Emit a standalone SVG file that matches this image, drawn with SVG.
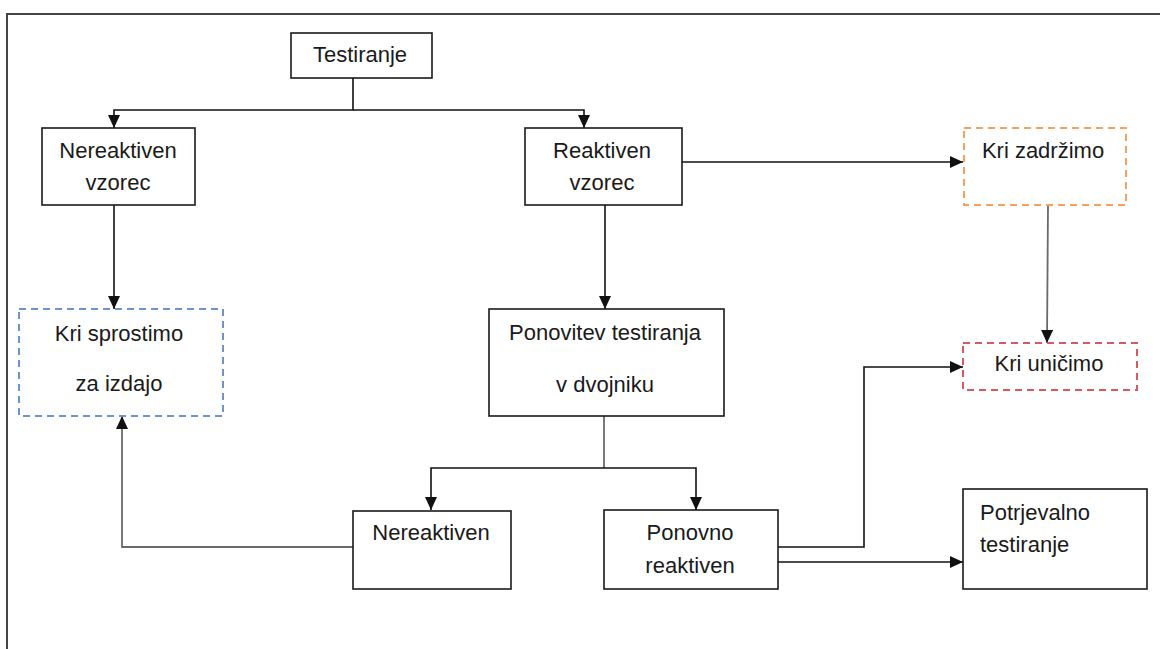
<svg xmlns="http://www.w3.org/2000/svg" width="1160" height="649" viewBox="0 0 1160 649">
  <style>
    .box { fill: #ffffff; stroke: #1a1a1a; stroke-width: 1.6; }
    .dash { fill: #ffffff; stroke-width: 2; stroke-dasharray: 7 5; }
    .blue { stroke: #6b95cf; }
    .orange { stroke: #f7a15e; }
    .red { stroke: #d45b60; }
    .t { font-family: "Liberation Sans", Arial, sans-serif; font-size: 22px; fill: #1a1a1a; }
    .c { text-anchor: middle; }
    .ln { fill: none; stroke: #111111; stroke-width: 1.6; }
    .gr { fill: none; stroke: #6a6a6a; stroke-width: 1.8; }
    .arr { marker-end: url(#ah); }
  </style>
  <defs>
    <marker id="ah" markerUnits="userSpaceOnUse" markerWidth="13" markerHeight="12" refX="13" refY="6" orient="auto">
      <path d="M0,0 L13,6 L0,12 z" fill="#111111"/>
    </marker>
  </defs>
  <rect width="1160" height="649" fill="#ffffff"/>
  <path d="M7,649 V14 H1160" fill="none" stroke="#444444" stroke-width="2"/>

  <g id="connectors">
    <path class="ln arr" d="M353,78 V110 H114 V128"/>
    <path class="ln arr" d="M353,110 H584 V128"/>
    <path class="ln arr" d="M114,205 V309"/>
    <path class="ln arr" d="M605,205 V309"/>
    <path class="ln arr" d="M682,162 H963"/>
    <path class="gr arr" d="M1048,205 L1047,343"/>
    <path class="gr" d="M604,416 V468"/>
    <path class="ln arr" d="M604,468 H431 V510"/>
    <path class="ln arr" d="M604,468 H696 V510"/>
    <path class="gr arr" d="M353,547 H122 V416"/>
    <path class="ln arr" d="M778,547 H864 V367 H963"/>
    <path class="ln arr" d="M778,562 H963"/>
  </g>

  <g id="testiranje">
    <rect class="box" x="291" y="33" width="141" height="45"/>
    <text class="t c" x="360" y="62">Testiranje</text>
  </g>
  <g id="nereaktiven-vzorec">
    <rect class="box" x="42" y="128" width="153" height="77"/>
    <text class="t c" x="118" y="158">Nereaktiven</text>
    <text class="t c" x="118" y="190">vzorec</text>
  </g>
  <g id="reaktiven-vzorec">
    <rect class="box" x="525" y="128" width="157" height="77"/>
    <text class="t c" x="602" y="158">Reaktiven</text>
    <text class="t c" x="602" y="190">vzorec</text>
  </g>
  <g id="kri-zadrzimo">
    <rect class="dash orange" x="964" y="128" width="162" height="77"/>
    <text class="t c" x="1043" y="158">Kri zadržimo</text>
  </g>
  <g id="kri-sprostimo">
    <rect class="dash blue" x="19" y="309" width="204" height="107"/>
    <text class="t c" x="119" y="341">Kri sprostimo</text>
    <text class="t c" x="119" y="391">za izdajo</text>
  </g>
  <g id="ponovitev">
    <rect class="box" x="489" y="309" width="235" height="107"/>
    <text class="t c" x="605" y="340">Ponovitev testiranja</text>
    <text class="t c" x="605" y="392">v dvojniku</text>
  </g>
  <g id="kri-unicimo">
    <rect class="dash red" x="963" y="343" width="174" height="47"/>
    <text class="t c" x="1049" y="371">Kri uničimo</text>
  </g>
  <g id="nereaktiven">
    <rect class="box" x="353" y="511" width="158" height="78"/>
    <text class="t c" x="431" y="540">Nereaktiven</text>
  </g>
  <g id="ponovno-reaktiven">
    <rect class="box" x="604" y="510" width="174" height="79"/>
    <text class="t c" x="690" y="540">Ponovno</text>
    <text class="t c" x="690" y="573">reaktiven</text>
  </g>
  <g id="potrjevalno">
    <rect class="box" x="963" y="489" width="184" height="100"/>
    <text class="t" x="980" y="520">Potrjevalno</text>
    <text class="t" x="980" y="552">testiranje</text>
  </g>
</svg>
